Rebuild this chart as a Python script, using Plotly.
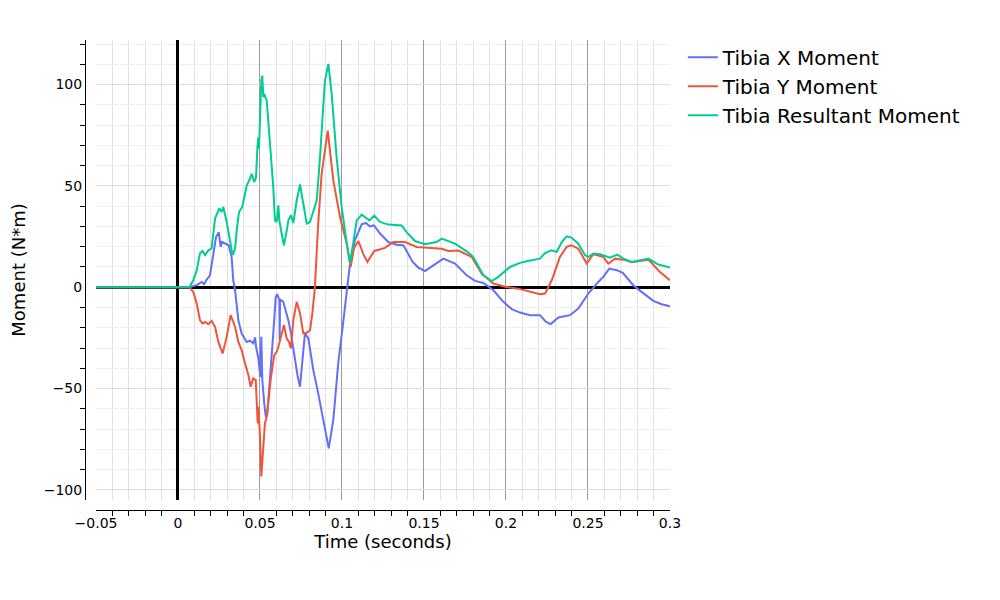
import plotly.graph_objects as go

# Tibia moments vs time
t_x = [-0.05, 0.007, 0.0114, 0.0145, 0.0159, 0.0175, 0.0195, 0.0215, 0.0232, 0.0248, 0.026, 0.0268,
       0.0288, 0.0309, 0.0327, 0.0337, 0.0348, 0.0368, 0.0388, 0.0419, 0.0439, 0.0459, 0.047, 0.0476,
       0.049, 0.0502, 0.0508, 0.0514, 0.0526, 0.0535, 0.0545, 0.0561, 0.0581, 0.0596, 0.0605, 0.0618,
       0.062, 0.0622, 0.0642, 0.0663, 0.0673, 0.0689, 0.0709, 0.073, 0.0744, 0.0754, 0.0774, 0.0795,
       0.0825, 0.0855, 0.0886, 0.0919, 0.0947, 0.0977, 0.1004, 0.1029, 0.1049, 0.1079, 0.112, 0.1146,
       0.117, 0.1195, 0.1232, 0.1282, 0.1334, 0.1374, 0.1431, 0.1465, 0.1506, 0.1557, 0.1618, 0.1689,
       0.176, 0.1811, 0.1862, 0.1923, 0.1984, 0.2035, 0.2085, 0.2146, 0.2207, 0.2244, 0.2273, 0.2319,
       0.239, 0.2441, 0.2502, 0.2563, 0.2593, 0.263, 0.2675, 0.2712, 0.2776, 0.2827, 0.2898, 0.2949, 0.3]
m_x = [0, 0, 1.0, 2.6, 1.5, 3.8, 5.9, 15, 24.8, 27.2, 19.9, 22.3,
       21.5, 20.7, 15, 3.4, -1.5, -16.3, -22.8, -27, -26.4, -27.7, -24.8, -29.4,
       -35.1, -44.2, -24.5, -45.8, -57.3, -63.9, -62.2, -45.8, -22.8, -4.8, -3.4, -6.4,
       -26.1, -6.0, -7.2, -13, -16.3, -22.8, -34.3, -44.2, -49.1, -40.9, -22.8, -25.3,
       -40.9, -52.4, -65.5, -79.5, -65.5, -37.6, -19.6, -3.1, 11.7, 23.2, 31, 31.7,
       30, 30.5, 26.5, 22.3, 21, 20.7, 12.5, 9.7, 8, 10.8, 14.1, 11.7,
       5.9, 3.1, 2.1, -1.5, -7.2, -10.8, -12.5, -13.8, -13.8, -17.1, -18.2, -14.9,
       -13.8, -10.5, -3.1, 2.6, 5.1, 9.2, 8.4, 7.1, 1.0, -2.3, -6.7, -8.4, -9.4]

t_y = [-0.05, 0.007, 0.0093, 0.0114, 0.0134, 0.015, 0.0165, 0.0185, 0.0205, 0.0226, 0.0246, 0.0272,
       0.0297, 0.0321, 0.0337, 0.0348, 0.0368, 0.0388, 0.0409, 0.0429, 0.0443, 0.0459, 0.0474, 0.0482,
       0.0486, 0.049, 0.05, 0.0508, 0.0518, 0.053, 0.0541, 0.0551, 0.0567, 0.0587, 0.0602, 0.0612,
       0.0632, 0.0646, 0.0663, 0.0677, 0.0689, 0.0703, 0.0724, 0.0744, 0.0764, 0.0785, 0.0805, 0.0819,
       0.0835, 0.0855, 0.0876, 0.0913, 0.0947, 0.0988, 0.1029, 0.1053, 0.1073, 0.11, 0.113, 0.1155,
       0.1197, 0.1262, 0.1313, 0.1384, 0.1455, 0.1537, 0.1608, 0.1648, 0.1709, 0.179, 0.1852, 0.1923,
       0.1994, 0.2075, 0.2146, 0.2207, 0.2238, 0.2279, 0.2329, 0.237, 0.24, 0.2441, 0.2492, 0.2532,
       0.2593, 0.2624, 0.2665, 0.2716, 0.2767, 0.2868, 0.2939, 0.3]
m_y = [0, 0, -2.3, -8, -16.3, -17.9, -17.1, -18.2, -16.6, -19.6, -27, -32.7,
       -24.5, -13.8, -17.1, -19.6, -27, -31, -37.6, -43.3, -49.1, -45, -45.8, -59,
       -67.2, -59, -73.7, -93.4, -80.3, -67.2, -63.9, -55.7, -44.2, -33.5, -31.9, -29.4,
       -22.8, -18.7, -25.3, -27, -30.2, -16.3, -7.2, -13, -22.8, -22.5, -21.2, -13,
       0.2, 31.5, 56, 77.3, 52.7, 34.6, 21.5, 10, 19.2, 22.8, 16.3, 12.5,
       17.9, 19.4, 22.3, 22.3, 19.9, 19.5, 19, 17.9, 18.1, 15, 6.7, 1.8,
       0.2, -0.7, -2.3, -3.4, -3.1, 3.4, 15, 19.9, 20.7, 19, 11.7, 16.3,
       15, 11.7, 14.1, 13.6, 12.3, 13.6, 7.5, 3.4]

t_r = [-0.05, 0.007, 0.0093, 0.0114, 0.0134, 0.015, 0.0165, 0.0185, 0.0205, 0.0226, 0.0252, 0.0266,
       0.0276, 0.0297, 0.0333, 0.0348, 0.0358, 0.0372, 0.0392, 0.0419, 0.0439, 0.0449, 0.0465, 0.0476,
       0.0484, 0.049, 0.0494, 0.05, 0.0508, 0.0514, 0.052, 0.0526, 0.0541, 0.0561, 0.0581, 0.0591,
       0.0602, 0.0612, 0.0618, 0.0632, 0.0646, 0.0663, 0.0673, 0.0689, 0.0703, 0.0724, 0.0744, 0.0764,
       0.0785, 0.0805, 0.0835, 0.0846, 0.0866, 0.0896, 0.0917, 0.0937, 0.0967, 0.0998, 0.1029, 0.1049,
       0.109, 0.112, 0.1167, 0.1197, 0.1232, 0.1282, 0.1364, 0.1394, 0.1445, 0.1506, 0.1577, 0.1608,
       0.1689, 0.176, 0.18, 0.1862, 0.1913, 0.1953, 0.2024, 0.2085, 0.2126, 0.2207, 0.2238, 0.2279,
       0.2309, 0.234, 0.237, 0.24, 0.2441, 0.2482, 0.2502, 0.2532, 0.2573, 0.2614, 0.2634, 0.2679,
       0.2716, 0.2767, 0.2868, 0.2929, 0.3]
m_r = [0, 0, 3.4, 8.4, 16.7, 17.9, 15.8, 18.2, 19.2, 34, 38.9, 37.1,
       39.6, 32.2, 15.8, 19, 28, 37.1, 39.6, 50.2, 53.5, 56, 51.9, 54.3,
       69.1, 74, 68.3, 85.6, 102, 104.4, 93.8, 95.4, 92.1, 70.8, 49.4, 33,
       32.2, 40.4, 33, 26.5, 20.7, 28, 33, 35.5, 31.7, 42.9, 50.7, 41.2,
       31.4, 32.2, 39.6, 42.9, 64.2, 102, 110.2, 95.4, 64.2, 39.6, 21.5, 11.7,
       33, 35.8, 33, 35.3, 32.2, 30.9, 30.5, 27.2, 22.8, 21.2, 22.3, 24,
       21.5, 17.7, 15, 5.9, 3, 5.1, 10, 12, 12.8, 14.1, 16.9, 18.2,
       17.4, 22.3, 25.1, 24.5, 21.5, 15.8, 15, 16.6, 16.3, 15.3, 14.6, 16.1,
       14.1, 12.5, 14.1, 11.2, 9.7]

fig = go.Figure()
fig.add_trace(go.Scatter(x=t_x, y=m_x, mode='lines', name='Tibia X Moment',
                         line=dict(color='#636EFA', width=2)))
fig.add_trace(go.Scatter(x=t_y, y=m_y, mode='lines', name='Tibia Y Moment',
                         line=dict(color='#EF553B', width=2)))
fig.add_trace(go.Scatter(x=t_r, y=m_r, mode='lines', name='Tibia Resultant Moment',
                         line=dict(color='#00CC96', width=2)))

font_family = 'DejaVu Sans, Verdana, sans-serif'

fig.update_layout(
    width=1000, height=600,
    template='plotly_white',
    paper_bgcolor='white', plot_bgcolor='white',
    margin=dict(l=77, r=338, t=32, b=98, autoexpand=False),
    font=dict(family=font_family, size=14, color='black'),
    legend=dict(x=1.022, y=1.005, xanchor='left', yanchor='top', font=dict(size=20)),
)

fig.update_xaxes(
    title=dict(text='Time (seconds)', font=dict(size=18), standoff=4),
    automargin=False,
    range=[-0.05, 0.3], domain=[0.0188, 1], anchor='free', position=0,
    dtick=0.05, tick0=0, ticks='',
    showline=True, linecolor='black', linewidth=1,
    showgrid=True, gridcolor='#9a9a9a', gridwidth=1,
    zeroline=True, zerolinecolor='black', zerolinewidth=3,
    minor=dict(dtick=0.01, ticks='outside', ticklen=5, tickcolor='black',
               showgrid=True, gridcolor='#e0e0e0'),
)
fig.update_yaxes(
    title=dict(text='Moment (N*m)', font=dict(size=18)),
    automargin=False,
    range=[-105, 122], domain=[0.0213, 1], anchor='free', position=0,
    dtick=50, tick0=0, ticks='',
    showline=True, linecolor='black', linewidth=1,
    showgrid=True, gridcolor='#dcdcdc', gridwidth=1,
    zeroline=True, zerolinecolor='black', zerolinewidth=3,
    minor=dict(dtick=10, ticks='outside', ticklen=5, tickcolor='black',
               showgrid=True, gridcolor='#efefef'),
)

fig.write_html("out.html")
